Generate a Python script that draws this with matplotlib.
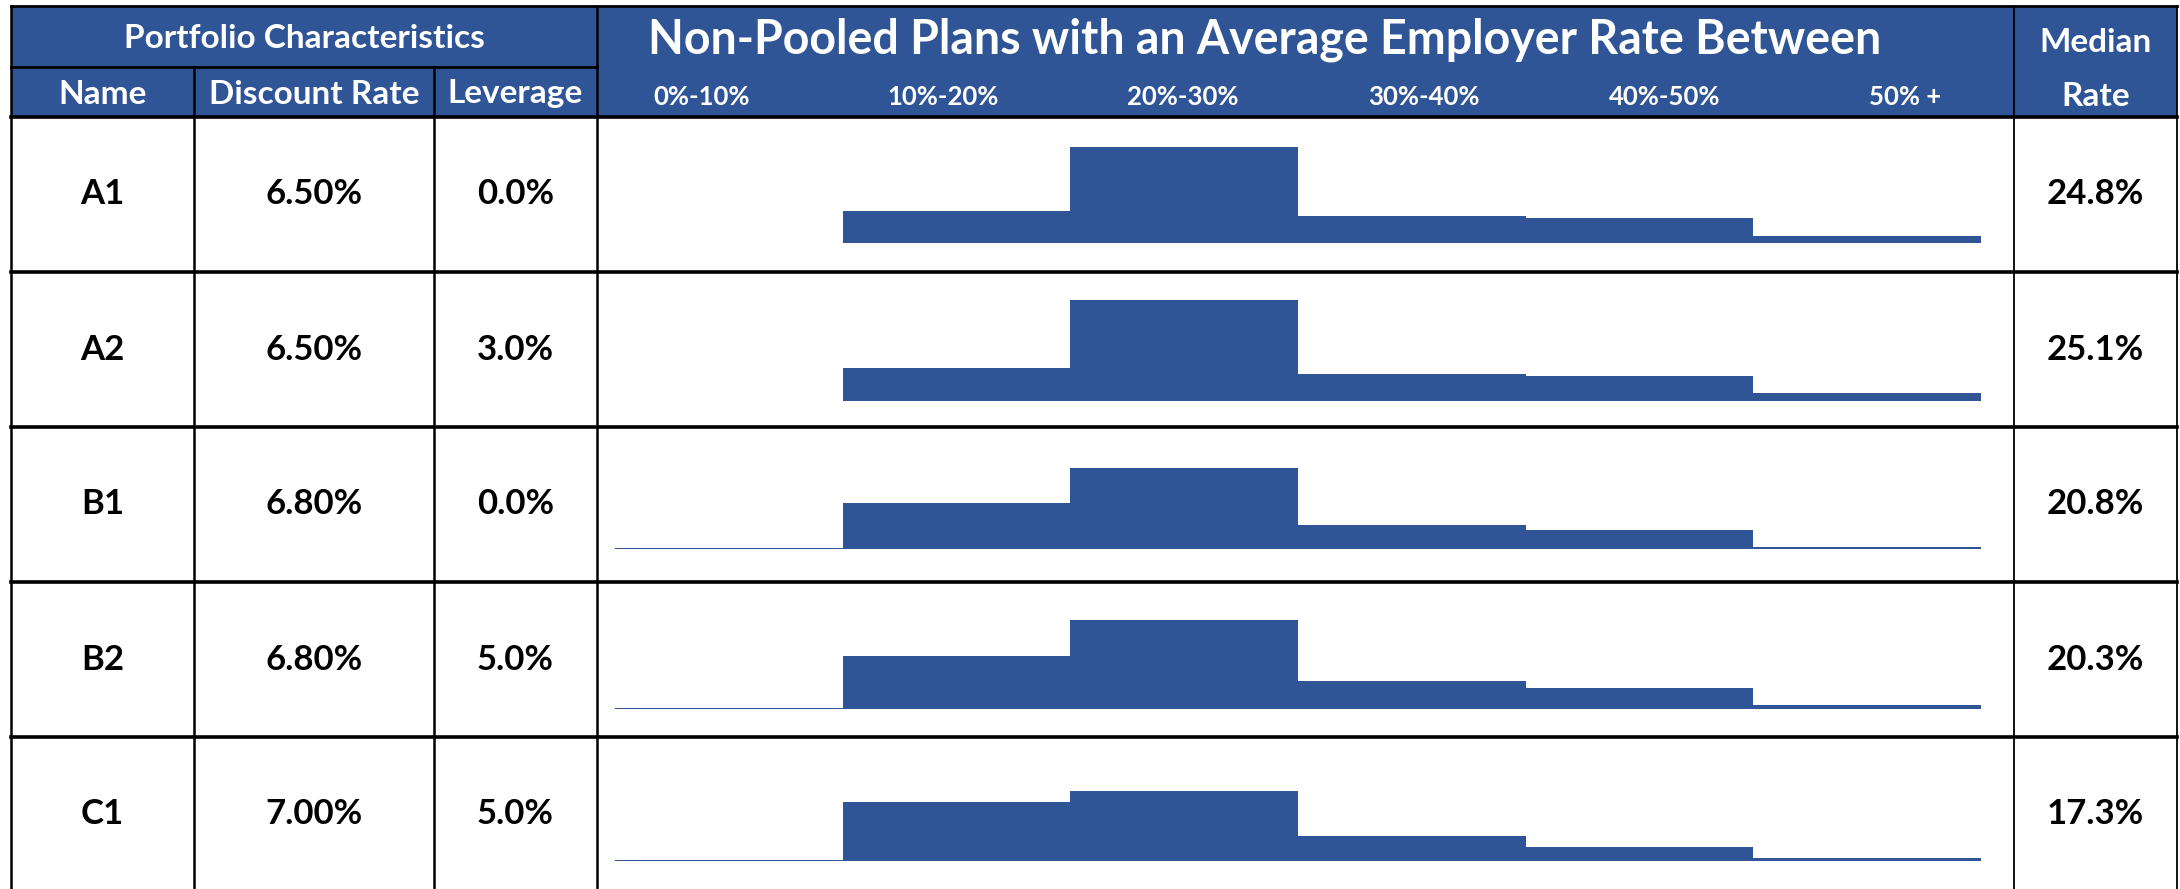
import numpy as np
import matplotlib.pyplot as plt
from matplotlib.patches import Rectangle

# ------------------------
# Datos de la tabla
# ------------------------
names = ['A1', 'A2', 'B1', 'B2', 'C1']
discount_rates = ['6.50%', '6.50%', '6.80%', '6.80%', '7.00%']
leverage = ['0.0%', '3.0%', '0.0%', '5.0%', '5.0%']
median_rates = ['24.8%', '25.1%', '20.8%', '20.3%', '17.3%']
bins = ['0%-10%', '10%-20%', '20%-30%', '30%-40%', '40%-50%', '50% +']

# porcentaje de planes en cada tramo
share_A1 = [np.nan, 17.2, 51.3, 14.3, 13.4, 3.7]
share_A2 = [np.nan, 17.6, 53.6, 14.2, 13.1, 4.3]
share_B1 = [0.6, 24.5, 43.3, 13.0, 10.3, 1.3]
share_B2 = [0.7, 28.4, 47.3, 15.1, 11.3, 2.3]
share_C1 = [0.7, 31.2, 37.2, 13.1, 7.6, 1.6]
shares = [share_A1, share_A2, share_B1, share_B2, share_C1]

# ------------------------
# Layout (pixeles)
# ------------------------
W, H = 2180, 889
blue = '#2F5597'
col_x = [11, 194, 434, 597, 2014, 2177]
top, mid, head_bot = 6, 67, 117
row_h = 155
base_offs = [126, 129, 122, 127, 124]   # baseline desde el borde superior de cada fila
px_per_pct = 1.88
hist_x0, hist_x1 = 615, 1981
font = 'Lato'

fig = plt.figure(figsize=(W / 100, H / 100), dpi=100)
ax = fig.add_axes([0, 0, 1, 1])
ax.set_xlim(0, W)
ax.set_ylim(H, 0)
ax.axis('off')

# encabezado azul
ax.add_patch(Rectangle((col_x[0], top), col_x[-1] - col_x[0], head_bot - top,
                       facecolor=blue, edgecolor='none'))

tk = dict(color='white', fontweight='bold', family=font, ha='center', va='center')
ax.text((col_x[0] + col_x[3]) / 2, (top + mid) / 2 + 2, 'Portfolio Characteristics', fontsize=24, **tk)
ax.text((col_x[0] + col_x[1]) / 2, (mid + head_bot) / 2 + 2, 'Name', fontsize=24, **tk)
ax.text((col_x[1] + col_x[2]) / 2, (mid + head_bot) / 2 + 2, 'Discount Rate', fontsize=24, **tk)
ax.text((col_x[2] + col_x[3]) / 2, (mid + head_bot) / 2 + 2, 'Leverage', fontsize=24, **tk)
ax.text(1265, 40, 'Non-Pooled Plans with an Average Employer Rate Between', fontsize=33.5, **tk)
for i, b in enumerate(bins):
    ax.text(702 + i * 240.6, 97, b, fontsize=18.5, **tk)
ax.text((col_x[4] + col_x[5]) / 2, 42, 'Median', fontsize=24, **tk)
ax.text((col_x[4] + col_x[5]) / 2, 97, 'Rate', fontsize=24, **tk)

# filas
rk = dict(color='black', fontweight='bold', family=font, ha='center', va='center', fontsize=25)
for i in range(len(names)):
    y0 = head_bot + i * row_h
    yc = y0 + row_h / 2
    ax.text((col_x[0] + col_x[1]) / 2, yc, names[i], **rk)
    ax.text((col_x[1] + col_x[2]) / 2, yc, discount_rates[i], **rk)
    ax.text((col_x[2] + col_x[3]) / 2, yc, leverage[i], **rk)
    ax.text((col_x[4] + col_x[5]) / 2, yc, median_rates[i], **rk)

    # histograma de la fila
    base = y0 + base_offs[i]
    hh = base - (y0 + 8)
    hax = fig.add_axes([hist_x0 / W, 1 - base / H, (hist_x1 - hist_x0) / W, hh / H])
    vals = np.nan_to_num(np.array(shares[i], dtype=float))
    hax.bar(np.arange(len(bins)), vals, width=1.0, align='edge', color=blue, linewidth=0)
    hax.set_xlim(0, len(bins))
    hax.set_ylim(0, hh / px_per_pct)
    hax.axis('off')

# lineas de la tabla
ax.plot([col_x[0], col_x[-1]], [top, top], color='black', lw=2)
ax.plot([col_x[0], col_x[3]], [mid, mid], color='black', lw=2)
for i in range(len(names)):
    y = head_bot + i * row_h
    ax.plot([col_x[0], col_x[-1]], [y, y], color='black', lw=2.6)
for j, x in enumerate(col_x):
    ys = mid if j in (1, 2) else top
    lw = 1.3 if j >= 4 else 1.8
    ax.plot([x, x], [ys, H], color='black', lw=lw)

fig.savefig('out.png', dpi=100)
